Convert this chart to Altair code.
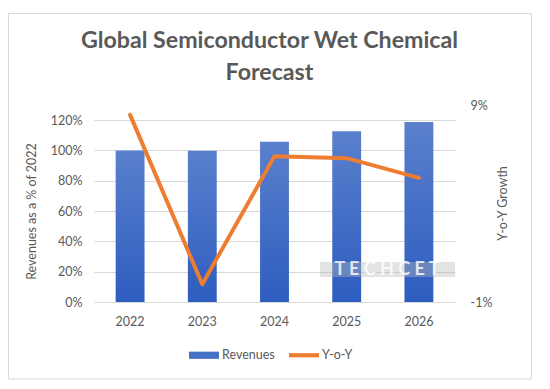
import altair as alt
import pandas as pd

years = ["2022", "2023", "2024", "2025", "2026"]
revenues = [1.00, 0.998, 1.057, 1.127, 1.187]
yoy = [0.085, -0.001, 0.064, 0.063, 0.053]
series_names = ["Revenues", "Y-o-Y"]
series_colors = ["#4472C4", "#ED7D31"]
left_ticks = [0.0, 0.2, 0.4, 0.6, 0.8, 1.0, 1.2]
right_ticks = [-0.01, 0.09]

df = pd.DataFrame({"year": years, "revenue": revenues, "yoy": yoy})
legend_df = pd.DataFrame({"series": series_names})
mark_df = pd.DataFrame({"label": ["T E C H C E T"]})

FONT = "Lato"
GREY = "#595959"
W, H = 361, 197

x_enc = alt.X(
    "year:N",
    sort=years,
    scale=alt.Scale(paddingInner=0.6, paddingOuter=0.3),
    axis=alt.Axis(
        title=None, labelAngle=0, ticks=False, domain=True, domainColor="#d9d9d9",
        domainWidth=1, labelPadding=13, labelFontSize=12.5, labelFont=FONT,
        labelColor=GREY, grid=False,
    ),
)

bars = alt.Chart(df).mark_bar(
    color=alt.Gradient(
        gradient="linear",
        stops=[alt.GradientStop(color="#5a80cd", offset=0),
               alt.GradientStop(color="#2d5dbf", offset=1)],
        x1=0, x2=0, y1=0, y2=1,
    )
).encode(
    x=x_enc,
    y=alt.Y(
        "revenue:Q",
        scale=alt.Scale(domain=[0, 1.3], nice=False, zero=True),
        axis=alt.Axis(
            values=left_ticks, labelExpr="round(datum.value*100) + '%'",
            title="Revenues as a % of 2022", titleFont=FONT, titleFontSize=12.5,
            titleFontWeight="normal", titleColor=GREY, titleAngle=270,
            titleX=-63, titleY=106, titleAlign="center", titleBaseline="middle",
            labelFont=FONT, labelFontSize=12.5, labelColor=GREY, labelPadding=12,
            ticks=False, domain=False, grid=True, gridColor="#d9d9d9", gridWidth=1,
        ),
    ),
)

line = alt.Chart(df).mark_line(
    color="#ED7D31", strokeWidth=4, strokeCap="round", strokeJoin="round"
).encode(
    x=alt.X("year:N", sort=years),
    y=alt.Y(
        "yoy:Q",
        scale=alt.Scale(domain=[-0.01, 0.09], nice=False, zero=False),
        axis=alt.Axis(
            orient="right", values=right_ticks,
            labelExpr="round(datum.value*100) + '%'",
            title="Y-o-Y Growth", titleFont=FONT, titleFontSize=12.5,
            titleFontWeight="normal", titleColor=GREY, titleAngle=270,
            titleX=47, titleY=98, titleAlign="center", titleBaseline="middle",
            labelFont=FONT, labelFontSize=12.5, labelColor=GREY, labelPadding=15,
            ticks=False, domain=False, grid=False,
        ),
    ),
)

legend_layer = alt.Chart(legend_df).mark_point(filled=True, size=0, opacity=1).encode(
    color=alt.Color(
        "series:N",
        scale=alt.Scale(domain=series_names, range=series_colors),
        legend=alt.Legend(
            title=None, orient="none", legendX=95, legendY=235, direction="horizontal",
            symbolSize=900, symbolOpacity=1, symbolStrokeWidth=0,
            labelFont=FONT, labelFontSize=12.5, labelColor=GREY, labelOffset=3,
            columnPadding=14, padding=0,
        ),
    ),
    shape=alt.Shape(
        "series:N",
        scale=alt.Scale(
            domain=series_names,
            range=["M-1,-0.24H1V0.24H-1Z", "M-1,-0.14H1V0.14H-1Z"],
        ),
    ),
)

band = alt.Chart(mark_df).mark_rect(color="#b8b8b8", opacity=0.4).encode(
    x=alt.value(226), x2=alt.value(361), y=alt.value(157), y2=alt.value(172)
)
watermark = alt.Chart(mark_df).mark_text(
    font=FONT, fontSize=18, fontWeight="bold", color="white", opacity=0.8
).encode(text="label:N", x=alt.value(293), y=alt.value(165))

border = alt.Chart(mark_df).mark_rect(
    fill="transparent", stroke="#d9d9d9", strokeWidth=1
).encode(
    x=alt.value(-85.5), x2=alt.value(437.5), y=alt.value(-91.5), y2=alt.value(274)
)

chart = alt.layer(bars, line, band, watermark, legend_layer, border).resolve_scale(
    y="independent"
).properties(
    width=W, height=H,
    autosize=alt.AutoSizeParams(type="none"),
    padding={"left": 86, "top": 97, "right": 78, "bottom": 78},
    title=alt.TitleParams(
        text=["Global Semiconductor Wet Chemical", "Forecast"],
        font=FONT, fontSize=23.2, fontWeight="bold", color=GREY,
        anchor="middle", dx=-5, dy=94.5, offset=22, lineHeight=32.5,
    ),
).configure_view(stroke=None)

chart.save("out.html", embed_options={"renderer": "svg", "actions": False})
